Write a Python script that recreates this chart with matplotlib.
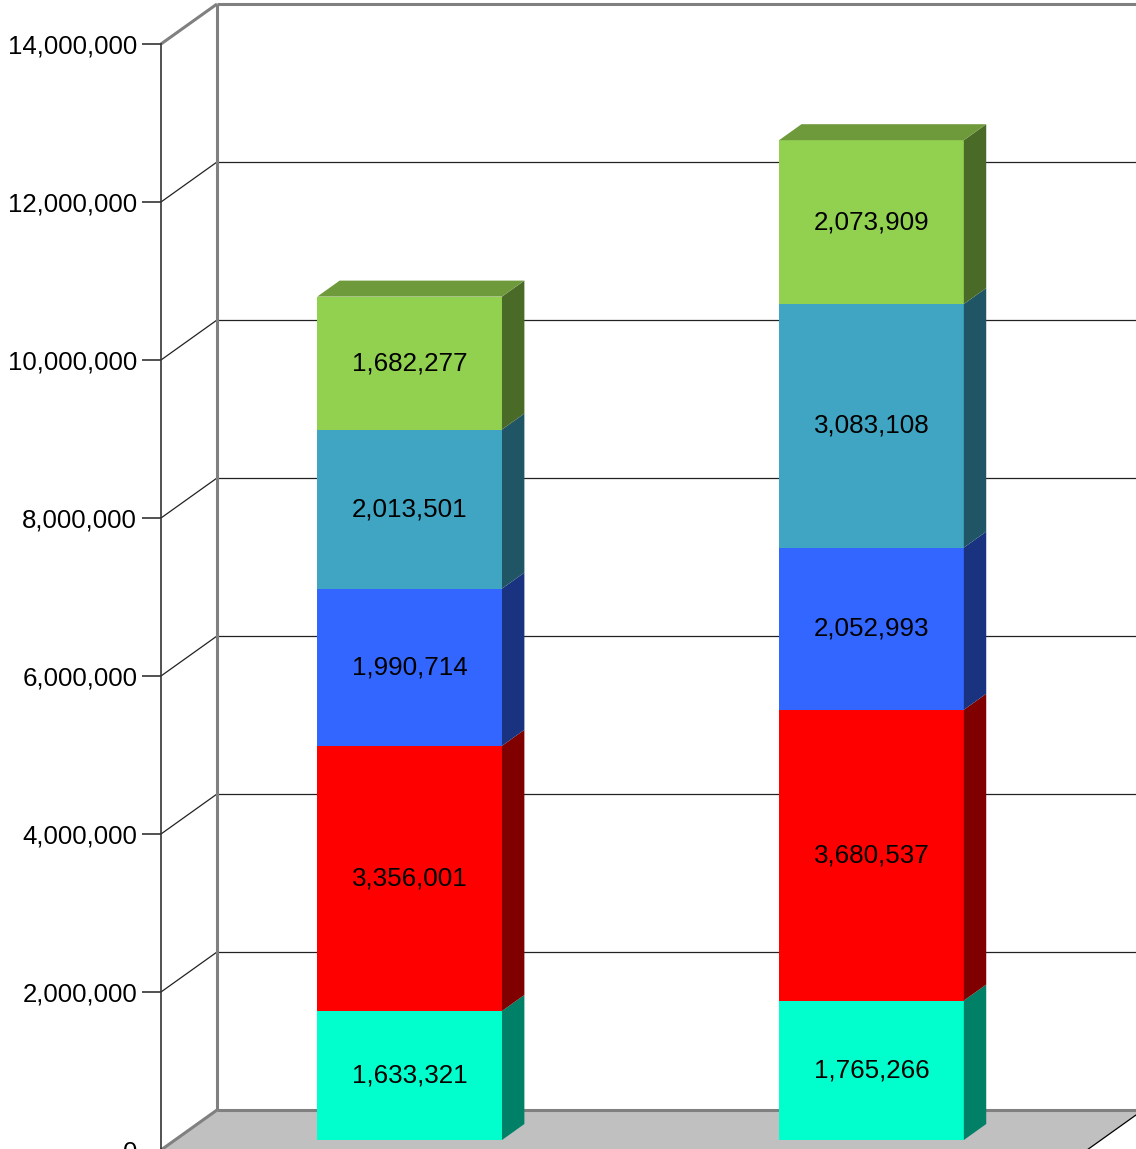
import matplotlib
matplotlib.use("Agg")
import matplotlib.pyplot as plt
import matplotlib.transforms as mtransforms
from matplotlib.patches import Polygon
from matplotlib.ticker import FuncFormatter

plt.rcParams['font.family'] = ['Liberation Sans', 'DejaVu Sans']

categories = ["A", "B"]
series_values = [
    [1633321, 1765266],
    [3356001, 3680537],
    [1990714, 2052993],
    [2013501, 3083108],
    [1682277, 2073909],
]
front_colors = ["#00ffcc", "#ff0000", "#3366ff", "#3fa5c2", "#92d050"]
side_colors = ["#008066", "#800000", "#1a3380", "#205566", "#4a6b28"]
top_color = "#6f9a3c"
y_ticks = [0, 2000000, 4000000, 6000000, 8000000, 10000000, 12000000, 14000000]

W, H = 1136, 1149
DX, DY = 56, 40          # depth of the box in pixels
F0, F1 = 0.25, 0.65      # bar depth range (fraction of box depth)
BAR_W = 0.4

fig = plt.figure(figsize=(W / 100, H / 100), dpi=100)
# front plane: x from 161 to 1087 px, y 0 at 1150 px, 14M at 44 px (from top)
ax = fig.add_axes([161 / W, (H - 1150) / H, 926 / W, (1150 - 44) / H])
ax.set_xlim(-0.508, 1.497)
ax.set_ylim(0, 14000000)
ax.set_yticks(y_ticks)
ax.yaxis.set_major_formatter(FuncFormatter(lambda v, p: f"{int(v):,}"))
ax.set_xticks([])
ax.tick_params(axis="y", length=19 * 0.72, width=1.2, color="#333333",
               labelsize=18.6, pad=3.5)
for s in ["top", "right", "bottom"]:
    ax.spines[s].set_visible(False)
ax.spines["left"].set_color("#333333")
ax.spines["left"].set_linewidth(1.2)
ax.spines["left"].set_zorder(10)
ax.patch.set_visible(False)


def pt(x, v, f):
    px, py = ax.transData.transform((x, v))
    return (px + DX * f, py + DY * f)


ident = mtransforms.IdentityTransform()


def poly(pts, color, z, ec="none", lw=0):
    ax.add_patch(Polygon(pts, closed=True, facecolor=color, edgecolor=ec,
                         linewidth=lw, transform=ident, clip_on=False,
                         zorder=z))


def line(p, q, color, lw, z):
    ax.plot([p[0], q[0]], [p[1], q[1]], color=color, lw=lw, transform=ident,
            clip_on=False, zorder=z, solid_capstyle="butt")


x0, x1 = ax.get_xlim()
top = y_ticks[-1]

# floor
poly([pt(x0, 0, 0), pt(x0, 0, 1), pt(x1, 0, 1), pt(x1, 0, 0)], "#c0c0c0", 1)
line(pt(x0, 0, 1), pt(x1, 0, 1), "#808080", 2.2, 2)
line(pt(x0, 0, 0), pt(x0, 0, 1), "#808080", 2.2, 2)
line(pt(x1, 0, 1), pt(x1, 0, 0), "#000000", 0.9, 2)

# grid lines on back wall and left wall
for v in y_ticks[1:-1]:
    line(pt(x0, v, 1), pt(x1, v, 1), "#222222", 0.9, 2)
    line(pt(x0, v, 0), pt(x0, v, 1), "#222222", 0.9, 2)

# box outline
line(pt(x0, 0, 1), pt(x0, top, 1), "#808080", 2.2, 3)
line(pt(x0, top, 1), pt(x1, top, 1), "#808080", 2.2, 3)
line(pt(x0, top, 0), pt(x0, top, 1), "#808080", 2.2, 3)

# bars
off = mtransforms.ScaledTranslation(DX * F0 / 100, DY * F0 / 100,
                                    fig.dpi_scale_trans)
for i, cat in enumerate(categories):
    bottom = 0
    left, right = i - BAR_W / 2, i + BAR_W / 2
    for j, vals in enumerate(series_values):
        v = vals[i]
        t = bottom + v
        poly([pt(left, bottom, F0), pt(right, bottom, F0),
              pt(right, t, F0), pt(left, t, F0)], front_colors[j], 5)
        poly([pt(right, bottom, F0), pt(right, bottom, F1),
              pt(right, t, F1), pt(right, t, F0)], side_colors[j], 5)
        ax.text(i, bottom + v / 2, f"{v:,}", ha="center", va="center",
                fontsize=18.7, color="black", zorder=6,
                transform=ax.transData + off)
        bottom = t
    poly([pt(left, bottom, F0), pt(right, bottom, F0),
          pt(right, bottom, F1), pt(left, bottom, F1)], top_color, 5)

fig.savefig("out.png", dpi=100)
